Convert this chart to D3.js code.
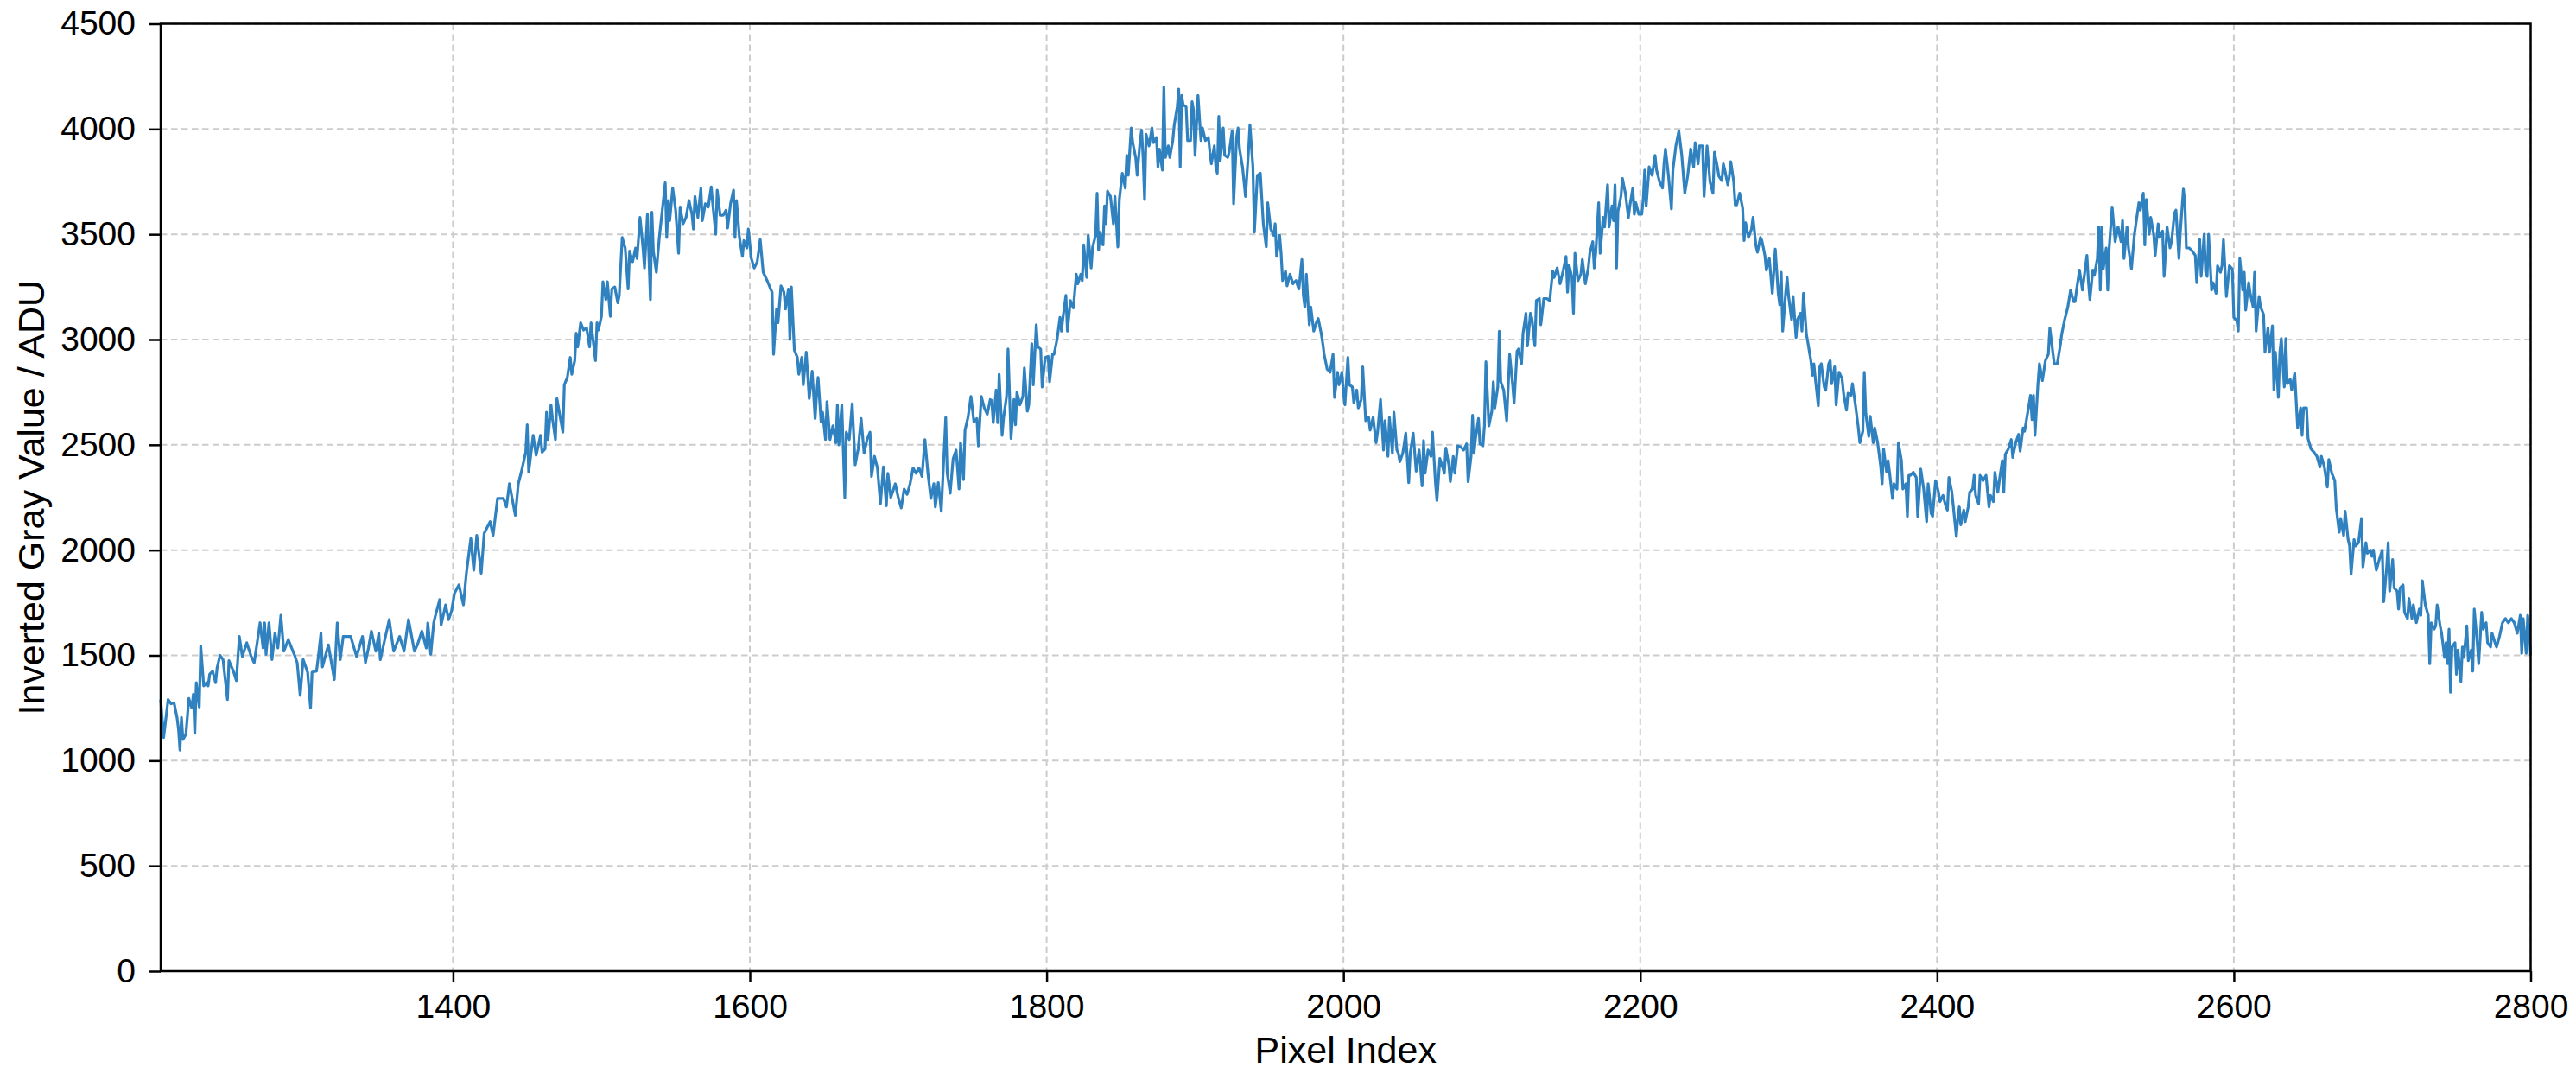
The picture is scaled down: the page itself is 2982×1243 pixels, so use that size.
<!DOCTYPE html>
<html><head><meta charset="utf-8">
<script src="https://cdn.jsdelivr.net/npm/d3@7"></script>
<style>html,body{margin:0;padding:0;background:#fff;} svg{display:block;}</style>
</head><body>
<svg id="chart" width="2982" height="1243"></svg>
<script>
const xTicks = [1400, 1600, 1800, 2000, 2200, 2400, 2600, 2800];
const yTicks = [0, 500, 1000, 1500, 2000, 2500, 3000, 3500, 4000, 4500];
const xLabel = "Pixel Index";
const yLabel = "Inverted Gray Value / ADU";
const xDomain = [1203, 2800];
const yDomain = [0, 4500];

const pixelIndex = [
1203,1205,1208,1210,1212,1214,1215,1216,1217,1218,
1220,1222,1224,1225,1226,1227,1229,1230,1232,1234,
1235,1236,1238,1240,1241,1243,1245,1248,1249,1252,
1254,1256,1258,1261,1264,1266,1268,1270,1272,1273,
1274,1276,1278,1280,1282,1284,1286,1289,1293,1295,
1297,1299,1302,1304,1305,1308,1309,1311,1312,1316,
1320,1322,1324,1326,1331,1335,1339,1341,1343,1345,
1348,1350,1351,1354,1357,1360,1364,1367,1370,1374,
1376,1379,1382,1383,1385,1387,1388,1391,1392,1395,
1397,1399,1401,1404,1407,1409,1412,1414,1416,1419,
1421,1425,1427,1430,1434,1436,1438,1442,1444,1446,
1449,1450,1451,1454,1456,1459,1460,
1462,1463,1464,1466,1467,1469,1470,1472,1474,1475,
1477,1479,1480,1482,1483,1484,1486,1488,1490,1492,
1493,1496,1497,1498,1500,1501,1503,1504,1506,1507,
1509,1511,1512,1514,1516,1518,1519,1521,1523,1524,
1526,1528,1529,1531,1533,1534,1535,1537,1539,1541,
1543,1544,1545,1546,1548,1550,1552,1553,1555,1557,
1559,1561,1562,1563,1565,1567,1568,1570,1572,1574,
1575,1577,1578,1580,1582,1584,1585,1587,1589,1590,
1591,1593,1595,1596,1598,1599,1601,1603,1605,1607,
1609,1612,1614,1615,1616,1618,1619,1621,1623,1624,
1626,1627,1628,1630,1632,1633,1635,1636,1638,1640,
1642,1644,1645,1646,1648,1649,1651,1652,1654,1656,
1658,1659,1660,1662,1664,1665,1667,1669,1671,1673,
1675,1677,1679,1681,1682,1684,1686,1688,1690,1692,
1693,1695,1698,1700,1702,1704,1706,1708,1710,1712,
1714,1716,1718,1720,1722,
1724,1725,1727,1729,1732,1733,1735,1737,1739,1741,
1742,1744,1745,1747,1749,1751,1753,1754,1756,1758,
1760,1762,1763,1764,1766,1767,1768,1770,1771,1773,
1774,1776,1778,1779,1780,1782,1784,1785,1787,1788,
1790,1791,1793,1794,1796,1797,1799,1801,1802,1804,
1805,1807,1809,1810,1811,1813,1814,1816,1818,1820,
1821,1823,1824,1825,1827,1828,1830,1831,1833,1834,
1835,1836,1838,1839,1840,1841,1843,1845,1846,1848,
1849,1851,1853,1854,1855,1857,1858,1860,1861,1863,
1864,1865,1866,1867,1869,1871,1872,1874,1875,1876,
1878,1879,1880,1882,1883,1885,1886,1888,1889,1890,
1891,1892,1894,1895,1897,1898,1899,1900,1902,1904,
1905,1907,1909,1910,1911,1913,1914,1915,1916,1917,
1919,1920,1922,1923,1925,1926,1928,1929,1930,1932,
1934,1936,1937,1939,1940,1942,1944,1946,1948,1949,
1951,1953,1954,1955,1957,1958,1959,1961,1962,1964,
1966,1968,1970,1972,1973,1974,1975,1977,1978,1980,
1982,1983,1985,
1986,1987,1989,1991,1993,1994,1996,1997,1999,2000,
2001,2003,2004,2006,2007,2009,2010,2012,2013,2015,
2017,2018,2020,2022,2023,2025,2027,2028,2030,2031,
2033,2034,2036,2037,2038,2040,2042,2044,2045,2047,
2049,2051,2053,2054,2055,2057,2059,2060,2062,2063,
2065,2067,2068,2069,2071,2072,2074,2075,2077,2079,
2081,2083,2084,2086,2087,2088,2089,2091,2092,2094,
2095,2096,2098,2100,2101,2102,2104,2105,2106,2108,
2110,2112,2114,2115,2117,2118,2120,2121,2123,2124,
2126,2127,2129,2130,2132,2133,2135,2137,2139,2141,
2142,2144,2146,2148,2150,2151,2152,2154,2155,2156,
2158,2160,2161,2163,2165,2166,2168,2169,2170,2172,
2173,2175,2176,2178,2179,2181,2182,2183,2184,2185,
2187,2188,2190,2192,2193,2195,2196,2197,2199,2201,
2202,2203,2204,2206,2208,2210,2211,2213,2215,2216,
2217,2219,2221,2222,2224,2226,2228,2230,2232,2234,
2236,2237,2239,2240,2242,2243,2245,2247,
2249,2250,2252,2253,2255,2256,2257,2259,2260,2261,
2263,2264,2265,2267,2269,2270,2271,2273,2275,2276,
2278,2279,2281,2282,2284,2285,2287,2289,2290,2291,
2293,2294,2295,2296,2298,2299,2300,2302,2303,2305,
2306,2308,2309,2310,2312,2313,2315,2316,2317,2318,
2320,2321,2322,2324,2325,2327,2328,2329,2331,2332,
2334,2336,2337,2339,2340,2342,2343,2345,2347,2348,
2350,2351,2352,2354,2355,2357,2358,2360,2362,2363,
2364,2366,2367,2368,2370,2371,2373,2374,2376,2377,
2379,2380,2381,2382,2384,2386,2387,2389,2391,2393,
2394,2396,2397,2399,2401,2402,2404,2406,2407,2408,
2410,2411,2413,2414,2415,2416,2418,2419,2421,2422,
2424,2425,2426,2428,2429,2431,2433,2435,2436,2438,
2439,2441,2442,2444,2445,2446,2448,2450,2451,2453,
2455,2456,2458,2459,2461,2463,2464,2465,2466,2468,
2469,2471,2473,2475,2476,2478,2479,2481,2483,2484,
2486,2488,2490,2492,2493,2494,2496,2498,2499,2501,
2502,2503,2505,2506,2508,2509,
2510,2511,2512,2514,2515,2516,2518,2520,2521,2522,
2524,2525,2526,2528,2529,2531,2533,2534,2536,2537,
2539,2540,2541,2543,2544,2546,2547,2549,2550,2552,
2553,2555,2557,2558,2560,2561,2563,2564,2566,2567,
2568,2570,2572,2574,2575,2577,2578,2580,2581,2582,
2583,2585,2586,2588,2589,2591,2592,2593,2595,2597,
2599,2600,2602,2603,2604,2606,2607,2608,2610,2611,
2613,2614,2615,2617,2618,2620,2621,2623,2624,2626,
2627,2628,2630,2631,2632,2634,2635,2636,2638,2639,
2641,2642,2643,2645,2646,2647,2649,2650,2652,2654,
2656,2658,2659,2661,2663,2664,2666,2668,2669,2671,
2672,2674,2675,2677,2678,2679,2681,2682,2684,2686,
2687,2689,2690,2692,2693,2694,2696,2698,2700,2701,
2703,2704,2705,2707,2708,2710,2711,2712,2714,2715,
2717,2718,2720,2721,2723,2725,2726,2727,2729,2731,
2732,2733,2735,2736,2737,2739,2740,2742,2743,2744,
2745,2746,2747,2749,2750,2751,2753,2754,2755,2757,
2758,2760,2761,2762,2764,2765,2767,2768,2770,2771,
2773,2774,2776,2777,2779,2781,2783,2785,2787,2789,
2791,2793,2794,2795,2797,2798,2799,2800
];

const grayValue = [
1290,1110,1290,1270,1275,1205,1150,1050,1205,1100,
1125,1295,1250,1315,1130,1370,1255,1545,1355,1370,
1355,1410,1425,1370,1440,1500,1480,1290,1475,1425,
1380,1590,1495,1560,1495,1465,1560,1655,1535,1655,
1505,1655,1480,1605,1535,1690,1520,1575,1505,1465,
1310,1480,1420,1250,1420,1425,1480,1605,1445,1550,
1385,1655,1480,1590,1590,1495,1590,1465,1535,1615,
1520,1605,1480,1575,1670,1520,1590,1520,1670,1520,
1550,1615,1535,1655,1505,1655,1685,1765,1645,1740,
1670,1710,1795,1835,1740,1890,2055,1905,2070,1890,
2080,2135,2070,2245,2245,2205,2315,2165,2315,2370,
2465,2595,2370,2545,2450,2545,2465,
2480,2655,2525,2690,2625,2525,2720,2640,2560,2785,
2820,2915,2835,2900,3030,2965,3080,3045,3055,2965,
3080,2900,3080,3045,3110,3275,3190,3275,3110,3240,
3250,3175,3210,3485,3435,3240,3420,3370,3435,3385,
3580,3435,3340,3595,3190,3605,3420,3320,3485,3615,
3745,3485,3660,3565,3720,3615,3410,3630,3550,3580,
3660,3595,3525,3680,3580,3720,3565,3645,3630,3725,
3645,3500,3710,3590,3590,3615,3530,3645,3710,3485,
3660,3485,3395,3470,3435,3525,3385,3340,3370,3475,
3320,3275,3240,3225,2930,3145,3080,3255,3225,3145,
3240,3000,3250,2950,2915,2835,2915,2785,2940,2720,
2850,2625,2740,2820,2610,2655,2525,2705,2525,2590,
2510,2690,2500,2690,2250,2560,2525,2695,2405,2480,
2625,2460,2525,2560,2350,2445,2390,2220,2395,2210,
2365,2250,2315,2250,2200,2290,2265,2315,2390,2365,
2390,2350,2525,2365,2245,
2315,2205,2320,2185,2630,2365,2270,2435,2475,2290,
2510,2335,2570,2630,2730,2610,2625,2495,2730,2675,
2645,2715,2710,2605,2760,2605,2835,2545,2630,2730,
2955,2530,2715,2595,2750,2690,2730,2865,2660,2690,
2980,2785,3070,2965,2955,2775,2915,2920,2800,2930,
2930,3000,3105,3040,3105,3210,3040,3185,3150,3310,
3265,3310,3280,3450,3295,3495,3340,3440,3495,3695,
3425,3510,3450,3635,3550,3705,3680,3550,3680,3440,
3665,3790,3720,3875,3780,4005,3935,3865,3780,3945,
3995,3865,3665,3975,3920,4005,3935,3960,3820,3905,
3805,4200,3865,3920,3865,3945,4020,4105,4190,3820,
4160,4115,4105,3945,3945,4130,4090,3875,4160,3945,
4005,3945,3960,3890,3835,3920,3820,3790,4060,3850,
4005,3875,3865,3890,3990,3645,3960,4005,3905,3820,
3680,3890,4020,3820,3510,3780,3790,3550,3440,3650,
3525,3495,3550,3395,3495,3410,3280,3325,3255,3310,
3265,3280,3240,3380,3210,3155,3310,3070,3155,3040,
3085,3100,3030,
2985,2930,2860,2845,2930,2725,2845,2785,2845,2745,
2690,2915,2785,2775,2700,2760,2675,2715,2870,2615,
2630,2570,2630,2510,2560,2715,2475,2615,2445,2630,
2460,2655,2475,2460,2420,2460,2555,2320,2460,2555,
2375,2475,2305,2520,2365,2475,2445,2560,2320,2235,
2435,2390,2365,2485,2405,2325,2445,2365,2495,2490,
2475,2505,2325,2445,2640,2460,2530,2625,2505,2495,
2590,2895,2590,2660,2800,2675,2775,3040,2800,2760,
2615,2930,2785,2700,2945,2955,2885,3030,3125,2970,
3125,3100,2970,3185,3195,3070,3195,3195,3185,3325,
3295,3340,3265,3325,3395,3225,3355,3295,3125,3410,
3280,3310,3380,3265,3340,3410,3465,3340,3410,3650,
3410,3580,3535,3735,3535,3635,3565,3735,3340,3610,
3680,3765,3695,3580,3635,3720,3595,3650,3595,3595,
3665,3805,3635,3820,3780,3875,3805,3750,3720,3835,
3905,3780,3620,3805,3920,3990,3875,3695,3780,3905,
3820,3935,3835,3920,3920,3680,3920,3750,
3695,3890,3820,3775,3755,3835,3805,3735,3775,3845,
3750,3640,3640,3695,3625,3470,3555,3485,3525,3580,
3445,3415,3485,3470,3400,3330,3385,3220,3320,3430,
3220,3165,3320,3040,3220,3295,3205,3095,3205,3010,
3095,3125,3040,3220,3025,2985,2900,2830,2885,2815,
2685,2870,2885,2775,2760,2885,2900,2790,2870,2690,
2845,2815,2745,2665,2745,2735,2790,2690,2580,2510,
2565,2845,2650,2540,2635,2510,2580,2510,2400,2315,
2480,2370,2425,2370,2245,2315,2290,2510,2425,2290,
2315,2160,2355,2355,2370,2345,2160,2385,2290,2135,
2315,2175,2160,2330,2275,2230,2260,2205,2190,2345,
2275,2205,2065,2150,2205,2120,2190,2135,2205,2275,
2290,2355,2260,2220,2355,2330,2355,2205,2260,2230,
2370,2275,2330,2425,2275,2455,2480,2525,2440,2510,
2550,2470,2580,2565,2650,2735,2620,2735,2545,2790,
2885,2805,2900,2930,3055,2940,2885,2885,2970,3025,
3095,3150,3235,3180,3180,3235,3330,3235,3290,3400,
3275,3190,3330,3305,3385,3535,
3235,3535,3335,3435,3235,3435,3630,3465,3500,3535,
3465,3565,3385,3535,3435,3335,3500,3550,3650,3615,
3695,3450,3665,3500,3580,3500,3400,3550,3485,3515,
3300,3535,3435,3465,3600,3615,3385,3515,3715,3650,
3435,3435,3420,3400,3270,3475,3300,3500,3320,3300,
3500,3235,3270,3220,3350,3320,3350,3475,3205,3350,
3335,3105,3090,3040,3385,3235,3320,3140,3270,3220,
3155,3320,3040,3205,3155,3120,2940,3055,2940,3065,
2760,2940,2725,2940,3005,2775,3005,2790,2810,2760,
2840,2710,2580,2675,2545,2675,2675,2530,2480,2465,
2445,2395,2445,2395,2300,2430,2365,2330,2200,2085,
2150,2070,2185,2050,2020,1885,2050,2020,2035,2150,
1920,2035,1985,2000,1970,2000,1905,1955,2000,1755,
1920,2035,1805,1955,1820,1805,1720,1820,1835,1705,
1675,1770,1675,1740,1655,1720,1690,1855,1740,1690,
1460,1655,1625,1640,1740,1640,1605,1490,1560,1460,
1625,1325,1540,1560,1410,1525,1375,1540,1490,1640,
1475,1525,1425,1720,1560,1460,1705,1625,1655,1560,
1540,1605,1560,1540,1590,1655,1675,1655,1675,1655,
1605,1690,1510,1675,1510,1690,1625,1500
];

const W = 2982, H = 1243;
const plot = {left: 186, right: 2929.5, top: 27.5, bottom: 1124};
const FONT = "'Liberation Sans', Arial, Helvetica, sans-serif";

const x = d3.scaleLinear().domain(xDomain).range([plot.left, plot.right]);
const y = d3.scaleLinear().domain(yDomain).range([plot.bottom, plot.top]);

const svg = d3.select('#chart');
svg.append('rect').attr('width', W).attr('height', H).attr('fill', '#fff');

// grid
const grid = svg.append('g').attr('stroke', '#cccccc').attr('stroke-width', 2).attr('stroke-dasharray', '7.5,4.5');
grid.selectAll('line.v').data(xTicks).enter().append('line')
  .attr('x1', d => x(d)).attr('x2', d => x(d)).attr('y1', plot.top).attr('y2', plot.bottom);
grid.selectAll('line.h').data(yTicks).enter().append('line')
  .attr('y1', d => y(d)).attr('y2', d => y(d)).attr('x1', plot.left).attr('x2', plot.right);

// data line
const n = Math.min(pixelIndex.length, grayValue.length);
const pts = d3.range(n).map(i => [pixelIndex[i], grayValue[i]]);
const line = d3.line().x(d => x(d[0])).y(d => y(d[1]));
svg.append('path').datum(pts)
  .attr('d', line).attr('fill', 'none')
  .attr('stroke', '#2f81bf').attr('stroke-width', 3.2)
  .attr('stroke-linejoin', 'round').attr('stroke-linecap', 'butt');

// axes
const xAxis = svg.append('g').attr('transform', `translate(0,${plot.bottom})`)
  .call(d3.axisBottom(x).tickValues(xTicks).tickSize(12).tickPadding(14).tickFormat(d3.format('d')));
const yAxis = svg.append('g').attr('transform', `translate(${plot.left},0)`)
  .call(d3.axisLeft(y).tickValues(yTicks).tickSize(13).tickPadding(16).tickFormat(d3.format('d')));
[xAxis, yAxis].forEach(g => {
  g.select('.domain').remove();
  g.selectAll('.tick line').attr('stroke', '#000').attr('stroke-width', 2.5);
  g.selectAll('.tick text').attr('fill', '#000').style('font-family', FONT).style('font-size', '39px');
});

// spines
svg.append('rect')
  .attr('x', plot.left).attr('y', plot.top)
  .attr('width', plot.right - plot.left).attr('height', plot.bottom - plot.top)
  .attr('fill', 'none').attr('stroke', '#000').attr('stroke-width', 2.5);

// labels
svg.append('text').text(xLabel)
  .attr('x', (plot.left + plot.right) / 2).attr('y', 1230)
  .attr('text-anchor', 'middle').style('font-family', FONT).style('font-size', '43px').attr('fill', '#000');
svg.append('text').text(yLabel)
  .attr('transform', `translate(51,${(plot.top + plot.bottom) / 2}) rotate(-90)`)
  .attr('text-anchor', 'middle').style('font-family', FONT).style('font-size', '43px').attr('fill', '#000');
</script>
</body></html>
